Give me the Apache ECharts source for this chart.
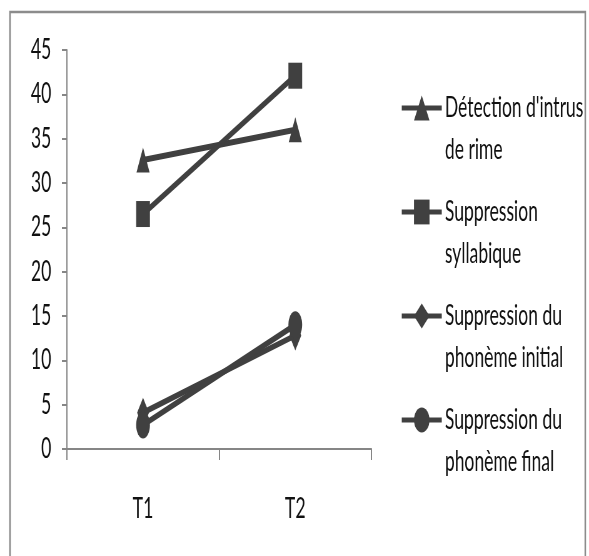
<!DOCTYPE html>
<html>
<head>
<meta charset="utf-8">
<script src="https://cdn.jsdelivr.net/npm/echarts@6/dist/echarts.min.js"></script>
<style>
  html, body { margin: 0; padding: 0; background: #ffffff; }
  #frame { width: 589px; height: 556px; overflow: hidden; position: relative; background: #ffffff; }
  /* the chart is laid out wide, then narrowed to give the tall, condensed look */
  #chart { width: 942px; height: 556px; transform: scaleX(0.62527); transform-origin: 0 0; }
</style>
</head>
<body>
<div id="frame"><div id="chart"></div></div>
<script>
// Test sessions
const categories = ['T1', 'T2'];

// Scores per task
const seriesNames = [
  "Détection d'intrus de rime",
  'Suppression syllabique',
  'Suppression du phonème initial',
  'Suppression du phonème final'
];
const legendLines = [
  ["Détection d'intrus", 'de rime'],
  ['Suppression', 'syllabique'],
  ['Suppression du', 'phonème initial'],
  ['Suppression du', 'phonème final']
];
const detectionRime = [32.6, 36.0];
const suppressionSyllabique = [26.5, 42.1];
const suppressionInitial = [4.1, 12.8];
const suppressionFinal = [2.7, 14.0];

const yTicks = { min: 0, max: 45, interval: 5 };

const symbols = ['triangle', 'rect', 'diamond', 'circle'];
const symbolSizes = [[21, 25], [22, 26], [19, 30], [22, 27]];
const values = [detectionRime, suppressionSyllabique, suppressionInitial, suppressionFinal];

const ink = '#404040';
const axisGrey = '#868686';
const font = 'Lato, "Liberation Sans", sans-serif';
const lineH = 42;

const chart = echarts.init(document.getElementById('chart'), null, { renderer: 'canvas', width: 942, height: 556 });

chart.setOption({
  backgroundColor: '#ffffff',
  animation: false,
  graphic: [{
    type: 'rect',
    shape: { x: 16, y: 12, width: 920, height: 620 },
    style: { fill: 'none', stroke: '#8c8c8c', lineWidth: 2.5 },
    silent: true
  }],
  grid: { left: 107, right: 348, top: 50, bottom: 107, containLabel: false },
  legend: {
    orient: 'vertical',
    left: 640,
    top: 45,
    padding: 0,
    itemGap: -22,
    itemWidth: 64,
    itemHeight: 31,
    data: seriesNames,
    lineStyle: { width: 5, color: ink },
    // a leading blank line keeps the icon level with the first line of text
    formatter: function (name) {
      return ' \n' + legendLines[seriesNames.indexOf(name)].join('\n');
    },
    textStyle: {
      fontFamily: font,
      fontSize: 28,
      color: '#111111',
      lineHeight: lineH
    }
  },
  xAxis: {
    type: 'category',
    data: categories,
    boundaryGap: true,
    axisLine: { show: true, lineStyle: { color: axisGrey, width: 2 } },
    axisTick: { show: true, length: 11, alignWithLabel: false, lineStyle: { color: axisGrey, width: 2 } },
    axisLabel: { margin: 46, fontFamily: font, fontSize: 28, color: '#111111' },
    splitLine: { show: false }
  },
  yAxis: {
    type: 'value',
    min: yTicks.min,
    max: yTicks.max,
    interval: yTicks.interval,
    axisLine: { show: true, lineStyle: { color: axisGrey, width: 2 } },
    axisTick: { show: true, length: 8, lineStyle: { color: axisGrey, width: 2 } },
    axisLabel: { margin: 25, fontFamily: font, fontSize: 28, color: '#111111' },
    splitLine: { show: false }
  },
  series: seriesNames.map(function (name, i) {
    return {
      name: name,
      type: 'line',
      data: values[i],
      symbol: symbols[i],
      symbolSize: symbolSizes[i],
      showAllSymbol: true,
      color: ink,
      lineStyle: { color: ink, width: 6 },
      itemStyle: { color: ink, borderWidth: 0 },
      emphasis: { disabled: true }
    };
  })
});
</script>
</body>
</html>
